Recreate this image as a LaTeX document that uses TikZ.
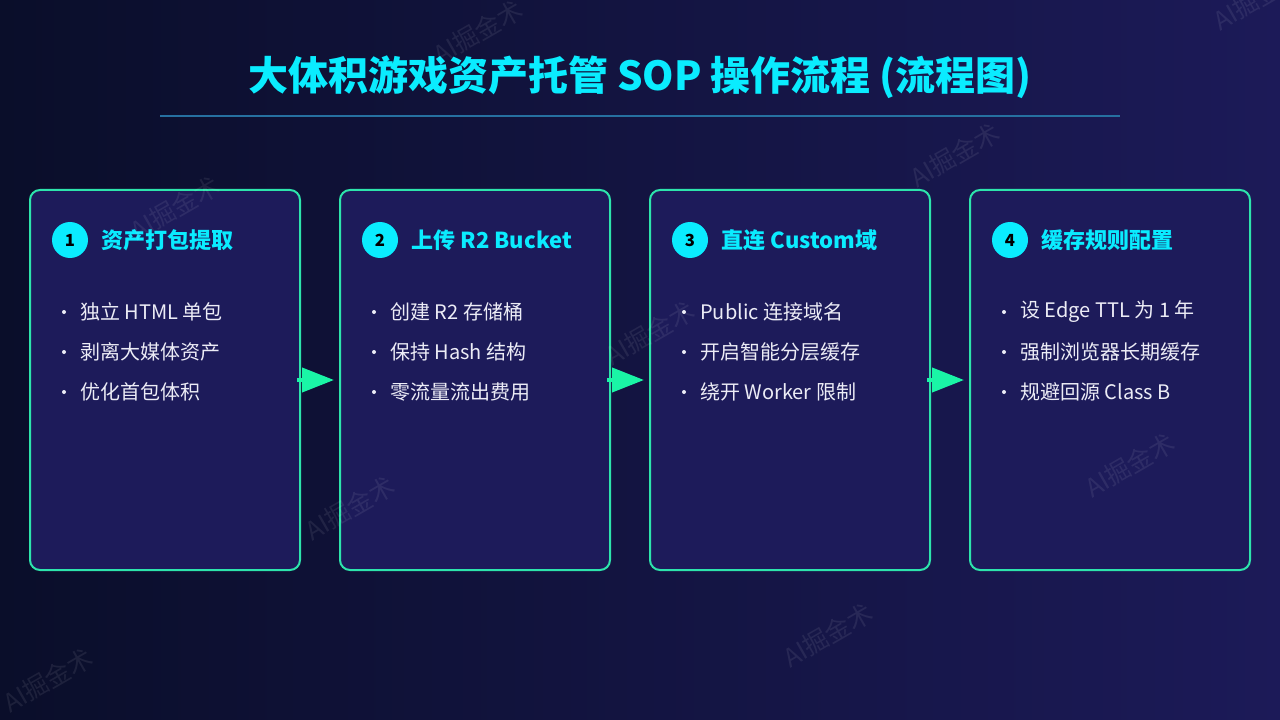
\documentclass[tikz,border=0pt]{standalone}
\usepackage{fontspec}
\setmainfont{Noto Sans CJK SC}
\usetikzlibrary{arrows.meta,positioning}
\definecolor{bgleft}{RGB}{10,14,42}
\definecolor{bgright}{RGB}{28,26,88}
\definecolor{boxfill}{RGB}{29,27,90}
\definecolor{boxline}{RGB}{45,228,172}
\definecolor{flowgreen}{RGB}{26,245,166}
\definecolor{titlecyan}{RGB}{10,236,255}
\definecolor{rulecolor}{RGB}{38,112,160}
\definecolor{itemwhite}{RGB}{236,236,246}
\tikzset{
  stepbox/.style={draw=boxline,line width=1.5pt,fill=boxfill,rounded corners=7.5pt,
    minimum height=285pt,inner sep=0pt},
  numdot/.style={circle,fill=titlecyan,minimum size=27pt,inner sep=0pt,text=black,
    font=\fontsize{12.5}{14}\selectfont\bfseries},
  headtext/.style={anchor=west,inner sep=0pt,text=titlecyan,
    font=\fontsize{16.5}{20}\selectfont\bfseries},
  itemtext/.style={anchor=west,inner sep=0pt,text=itemwhite,
    font=\fontsize{15}{18}\selectfont},
  flow/.style={draw=flowgreen,line width=3pt,-{Triangle[length=24pt,width=18pt]},
    shorten <=-3pt,shorten >=3.75pt},
  watermark/.style={rotate=30,text=white,opacity=0.08,font=\fontsize{19}{22}\selectfont}
}

\begin{document}
\begin{tikzpicture}[x=0.75pt,y=-0.75pt]
  \useasboundingbox (0,0) rectangle (1280,720);
  \shade[left color=bgleft,right color=bgright] (0,0) rectangle (1280,720);
  % title
  \node[inner sep=0pt,text=titlecyan,font=\fontsize{30}{36}\selectfont\bfseries] (title)
    at (640,77) {大体积游戏资产托管 SOP 操作流程 (流程图)};
  \draw[rulecolor,line width=1.5pt] (160,116) -- (1120,116);
  % steps
  \node[stepbox,minimum width=202.5pt] (b1) at (165,380) {};
  \node[stepbox,minimum width=202.5pt] (b2) at (475,380) {};
  \node[stepbox,minimum width=210pt] (b3) at (790,380) {};
  \node[stepbox,minimum width=210pt] (b4) at (1110,380) {};
  \draw[flow] (b1.east) -- (b2.west);
  \draw[flow] (b2.east) -- (b3.west);
  \draw[flow] (b3.east) -- (b4.west);
  % headings
  \node[numdot] (n1) at (70,240) {1};
  \node[headtext,right=9.75pt of n1] (h1) {资产打包提取};
  \node[numdot] (n2) at (380,240) {2};
  \node[headtext,right=9.75pt of n2] (h2) {上传 R2 Bucket};
  \node[numdot] (n3) at (690,240) {3};
  \node[headtext,right=9.75pt of n3] (h3) {直连 Custom域};
  \node[numdot] (n4) at (1010,240) {4};
  \node[headtext,right=9.75pt of n4] (h4) {缓存规则配置};
  % items
  \fill[itemwhite] (64,312) circle (1.5pt) (64,352) circle (1.5pt) (64,392) circle (1.5pt);
  \node[itemtext] (i11) at (80,312) {独立 HTML 单包};
  \node[itemtext] (i12) at (80,352) {剥离大媒体资产};
  \node[itemtext] (i13) at (80,392) {优化首包体积};
  \fill[itemwhite] (374,312) circle (1.5pt) (374,352) circle (1.5pt) (374,392) circle (1.5pt);
  \node[itemtext] (i21) at (390,312) {创建 R2 存储桶};
  \node[itemtext] (i22) at (390,352) {保持 Hash 结构};
  \node[itemtext] (i23) at (390,392) {零流量流出费用};
  \fill[itemwhite] (684,312) circle (1.5pt) (684,352) circle (1.5pt) (684,392) circle (1.5pt);
  \node[itemtext] (i31) at (700,312) {Public 连接域名};
  \node[itemtext] (i32) at (700,352) {开启智能分层缓存};
  \node[itemtext] (i33) at (700,392) {绕开 Worker 限制};
  \fill[itemwhite] (1004,312) circle (1.5pt) (1004,352) circle (1.5pt) (1004,392) circle (1.5pt);
  \node[itemtext] (i41) at (1020,312) {设 Edge TTL 为 1 年};
  \node[itemtext] (i42) at (1020,352) {强制浏览器长期缓存};
  \node[itemtext] (i43) at (1020,392) {规避回源 Class B};
  % watermarks
  \node[watermark] (w1) at (478,32) {AI掘金术};
  \node[watermark] (w2) at (1258,-2) {AI掘金术};
  \node[watermark] (w3) at (175,208) {AI掘金术};
  \node[watermark] (w4) at (955,155) {AI掘金术};
  \node[watermark] (w5) at (650,333) {AI掘金术};
  \node[watermark] (w6) at (350,508) {AI掘金术};
  \node[watermark] (w7) at (1130,465) {AI掘金术};
  \node[watermark] (w8) at (48,680) {AI掘金术};
  \node[watermark] (w9) at (828,635) {AI掘金术};
\end{tikzpicture}
\end{document}
